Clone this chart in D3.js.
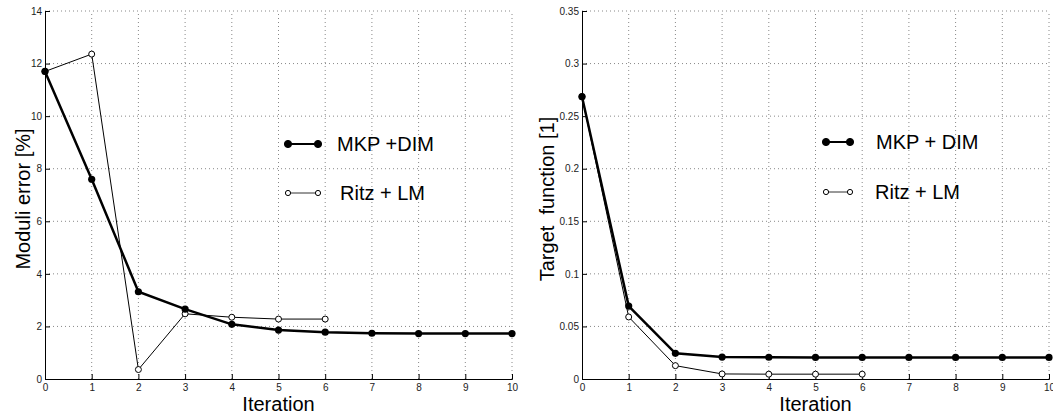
<!DOCTYPE html>
<html>
<head>
<meta charset="utf-8">
<script src="https://cdn.jsdelivr.net/npm/d3@7"></script>
<style>
  body { margin: 0; background: #fff; }
  svg { display: block; font-family: "Liberation Sans", Arial, sans-serif; }
  .tick text { fill: #222; font-size: 10px; }
</style>
</head>
<body>
<div id="chart"></div>
<script>
const iterations = [0, 1, 2, 3, 4, 5, 6, 7, 8, 9, 10];
const ritzIterations = [0, 1, 2, 3, 4, 5, 6];

// left panel: moduli error [%]
const moduliMkp = [11.7, 7.6, 3.32, 2.66, 2.08, 1.86, 1.78, 1.74, 1.73, 1.73, 1.73];
const moduliRitz = [11.7, 12.36, 0.36, 2.48, 2.35, 2.28, 2.28];
const moduliTicks = [0, 2, 4, 6, 8, 10, 12, 14];

// right panel: target function [1]
const targetMkp = [0.2685, 0.0694, 0.0244, 0.0209, 0.0207, 0.0205, 0.0205, 0.0205, 0.0205, 0.0205, 0.0205];
const targetRitz = [0.2685, 0.059, 0.0127, 0.0048, 0.0046, 0.0046, 0.0046];
const targetTicks = [0, 0.05, 0.1, 0.15, 0.2, 0.25, 0.3, 0.35];

const W = 1053, H = 414;
const svg = d3.select('#chart').append('svg')
    .attr('width', W)
    .attr('height', H);

function panel(opts) {
    const x = d3.scaleLinear().domain([0, 10]).range([opts.left, opts.right]);
    const y = d3.scaleLinear().domain(opts.yDomain).range([379, 11]);
    const g = svg.append('g');

    // dotted grid
    g.append('g').selectAll('line').data(iterations.slice(1)).join('line')
        .attr('x1', d => x(d)).attr('x2', d => x(d))
        .attr('y1', y.range()[0]).attr('y2', y.range()[1])
        .attr('stroke', '#888').attr('stroke-width', 1)
        .attr('stroke-dasharray', '1,3');
    g.append('g').selectAll('line').data(opts.yTicks.slice(1)).join('line')
        .attr('x1', x.range()[0]).attr('x2', x.range()[1])
        .attr('y1', d => y(d)).attr('y2', d => y(d))
        .attr('stroke', '#888').attr('stroke-width', 1)
        .attr('stroke-dasharray', '1,3');

    // axes, ticks pointing inwards
    const xAxis = g.append('g')
        .attr('transform', `translate(0,${y.range()[0]})`)
        .call(d3.axisBottom(x).tickValues(iterations).tickSize(-5).tickPadding(5).tickFormat(d3.format('d')));
    const yAxis = g.append('g')
        .attr('transform', `translate(${x.range()[0]},0)`)
        .call(d3.axisLeft(y).tickValues(opts.yTicks).tickSize(-5).tickPadding(3).tickFormat(opts.fmt));
    [xAxis, yAxis].forEach(a => {
        a.select('.domain').attr('stroke', '#000');
        a.selectAll('.tick line').attr('stroke', '#000');
    });

    // axis titles
    g.append('text')
        .attr('x', (opts.left + opts.right) / 2)
        .attr('y', 411)
        .attr('text-anchor', 'middle')
        .style('font-size', '20px')
        .text('Iteration');
    g.append('text')
        .attr('transform', `translate(${opts.titleX},199) rotate(-90)`)
        .attr('text-anchor', 'middle')
        .style('font-size', '20px')
        .style('white-space', 'pre')
        .text(opts.title);

    const line = d3.line().x((d, i) => x(i)).y(d => y(d));

    // Ritz + LM (thin, open markers)
    g.append('path').datum(opts.ritz)
        .attr('d', line).attr('fill', 'none')
        .attr('stroke', '#000').attr('stroke-width', 1);
    g.append('g').selectAll('circle').data(opts.ritz).join('circle')
        .attr('cx', (d, i) => x(ritzIterations[i])).attr('cy', d => y(d))
        .attr('r', 3).attr('fill', '#fff')
        .attr('stroke', '#000').attr('stroke-width', 1);

    // MKP + DIM (thick, filled markers)
    g.append('path').datum(opts.mkp)
        .attr('d', line).attr('fill', 'none')
        .attr('stroke', '#000').attr('stroke-width', 2.5);
    g.append('g').selectAll('circle').data(opts.mkp).join('circle')
        .attr('cx', (d, i) => x(iterations[i])).attr('cy', d => y(d))
        .attr('r', 3.6).attr('fill', '#000');

    // legend
    const lg = g.append('g');
    const items = [
        { label: opts.labels[0], y: opts.legend.y1, w: 2, r: 3.6, fill: '#000', tx: opts.legend.tx1 },
        { label: opts.labels[1], y: opts.legend.y2, w: 1, r: 2.6, fill: '#fff', tx: opts.legend.tx2 }
    ];
    items.forEach(it => {
        lg.append('line')
            .attr('x1', opts.legend.x1).attr('x2', opts.legend.x2)
            .attr('y1', it.y).attr('y2', it.y)
            .attr('stroke', it.fill === '#000' ? '#000' : '#333').attr('stroke-width', it.w);
        [opts.legend.x1, opts.legend.x2].forEach(cx => {
            lg.append('circle')
                .attr('cx', cx).attr('cy', it.y).attr('r', it.r)
                .attr('fill', it.fill).attr('stroke', '#000').attr('stroke-width', 1);
        });
        lg.append('text')
            .attr('x', it.tx).attr('y', it.y + 7)
            .style('font-size', '20px')
            .text(it.label);
    });
}

panel({
    left: 45, right: 512,
    yDomain: [0, 14], yTicks: moduliTicks, fmt: d3.format('d'),
    mkp: moduliMkp, ritz: moduliRitz,
    title: 'Moduli error [%]', titleX: 30,
    labels: ['MKP +DIM', 'Ritz + LM'],
    legend: { x1: 288, x2: 318, y1: 144, y2: 193, tx1: 337, tx2: 340 }
});

panel({
    left: 582, right: 1049,
    yDomain: [0, 0.35], yTicks: targetTicks, fmt: d => d === 0 ? '0' : String(d),
    mkp: targetMkp, ritz: targetRitz,
    title: 'Target  function [1]', titleX: 554,
    labels: ['MKP + DIM', 'Ritz + LM'],
    legend: { x1: 826, x2: 850, y1: 142, y2: 192, tx1: 876, tx2: 875 }
});
</script>
</body>
</html>
